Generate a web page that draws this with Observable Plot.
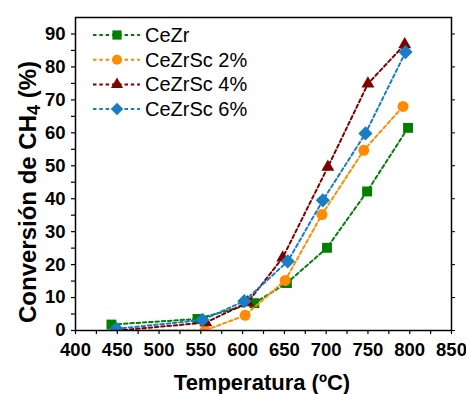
<!DOCTYPE html>
<html><head><meta charset="utf-8">
<script src="https://cdn.jsdelivr.net/npm/d3@7"></script>
<script src="https://cdn.jsdelivr.net/npm/@observablehq/plot@0.6"></script>
<style>
body{margin:0;background:#fff;}
#chart{position:relative;width:466px;height:394px;}
</style>
</head><body><div id="chart"></div>
<script>
const seriesNames = ["CeZr", "CeZrSc 2%", "CeZrSc 4%", "CeZrSc 6%"];
const colors = ["#008000", "#ff8c00", "#800000", "#1a7dc4"];
const symbols = ["square", "circle", "triangle", "diamond2"];

const tCeZr = [443, 546, 614, 653, 701, 749, 798];
const vCeZr = [1.8, 3.5, 8.3, 14.4, 25.1, 42.2, 61.5];
const tSc2 = [450, 555, 603, 651, 695, 745, 792];
const vSc2 = [0, 0, 4.6, 15.2, 35.2, 54.7, 68.0];
const tSc4 = [450, 556, 606, 648, 702, 750, 794];
const vSc4 = [0, 2.4, 8.5, 22.1, 49.6, 74.9, 86.8];
const tSc6 = [449, 552, 602, 654, 696, 747, 795];
const vSc6 = [0.5, 3.2, 8.9, 21.0, 39.5, 59.8, 84.5];

const xTicks = [400, 450, 500, 550, 600, 650, 700, 750, 800, 850];
const xMinor = [425, 475, 525, 575, 625, 675, 725, 775, 825];
const yTicks = [0, 10, 20, 30, 40, 50, 60, 70, 80, 90];
const yMinor = [5, 15, 25, 35, 45, 55, 65, 75, 85];

const xTitle = "Temperatura (ºC)";

const allT = [tCeZr, tSc2, tSc4, tSc6];
const allV = [vCeZr, vSc2, vSc4, vSc6];
const series = seriesNames.map((name, i) => allT[i].map((t, j) => ({t, v: allV[i][j], name})));
const dotR = [5.6, 5.5, 4.8, 6.4];

const marks = [];
series.forEach((data, i) => {
  marks.push(Plot.line(data, {x: "t", y: "v", stroke: colors[i], strokeWidth: 2, strokeDasharray: "3.5,2.8", clip: true}));
  marks.push(Plot.dot(data, {x: "t", y: "v", symbol: () => symbols[i], fill: colors[i], stroke: "none", r: dotR[i], clip: true}));
});

const plot = Plot.plot({
  width: 466, height: 394,
  marginLeft: 75, marginRight: 15, marginTop: 17, marginBottom: 64,
  style: {fontFamily: "'Liberation Sans', Arial, sans-serif", background: "#fff", color: "#000"},
  x: {domain: [400, 850], label: null},
  y: {domain: [0, 95], label: null},
  symbol: {type: "identity"},
  marks: [
    ...marks,
    Plot.frame({stroke: "#000", strokeWidth: 1.5}),
    Plot.axisX({ticks: xMinor, tickSize: 4, text: null, label: null, strokeWidth: 1.2}),
    Plot.axisX({ticks: xTicks, tickSize: 4, tickPadding: 8, tickFormat: d => String(d), fontSize: 18.5, fontWeight: "bold", label: null, strokeWidth: 1.2}),
    Plot.axisY({ticks: yMinor, tickSize: 4, text: null, label: null, strokeWidth: 1.2}),
    Plot.axisY({ticks: yTicks, tickSize: 4, tickPadding: 6, tickFormat: d => String(d), fontSize: 18.5, fontWeight: "bold", label: null, strokeWidth: 1.2}),
    Plot.axisY({anchor: "right", ticks: yTicks, tickSize: 3, text: null, label: null, strokeWidth: 1})
  ]
});
document.getElementById("chart").appendChild(plot);

const svg = d3.select(plot);
const ff = "'Liberation Sans', Arial, sans-serif";
// axis titles
svg.append("text")
  .attr("x", 262).attr("y", 390)
  .attr("text-anchor", "middle")
  .attr("font-family", ff)
  .attr("font-weight", "bold").attr("font-size", 22)
  .text(xTitle);
const yt = svg.append("text")
  .attr("transform", "translate(36,192) rotate(-90)")
  .attr("text-anchor", "middle")
  .attr("font-family", ff)
  .attr("font-weight", "bold").attr("font-size", 24);
yt.append("tspan").text("Conversión de CH");
yt.append("tspan").attr("font-size", 18).attr("dy", 4).text("4");
yt.append("tspan").attr("dy", -4).text(" (%)");

// legend
const symMap = {square: d3.symbolSquare, circle: d3.symbolCircle, triangle: d3.symbolTriangle, diamond2: d3.symbolDiamond2};
const sizes = [85, 80, 64, 100];
seriesNames.forEach((name, i) => {
  const y = 35 + i * 24.7;
  const g = svg.append("g");
  g.append("line").attr("x1", 93).attr("x2", 140).attr("y1", y).attr("y2", y)
    .attr("stroke", colors[i]).attr("stroke-width", 2).attr("stroke-dasharray", "3.5,2.8");
  g.append("path").attr("d", d3.symbol(symMap[symbols[i]], sizes[i])())
    .attr("transform", `translate(117,${y})`).attr("fill", colors[i]);
  g.append("text").attr("x", 145).attr("y", y + 7)
    .attr("text-anchor", "start")
    .attr("font-family", ff)
    .attr("font-size", 20).text(name);
});
</script>
</body></html>
